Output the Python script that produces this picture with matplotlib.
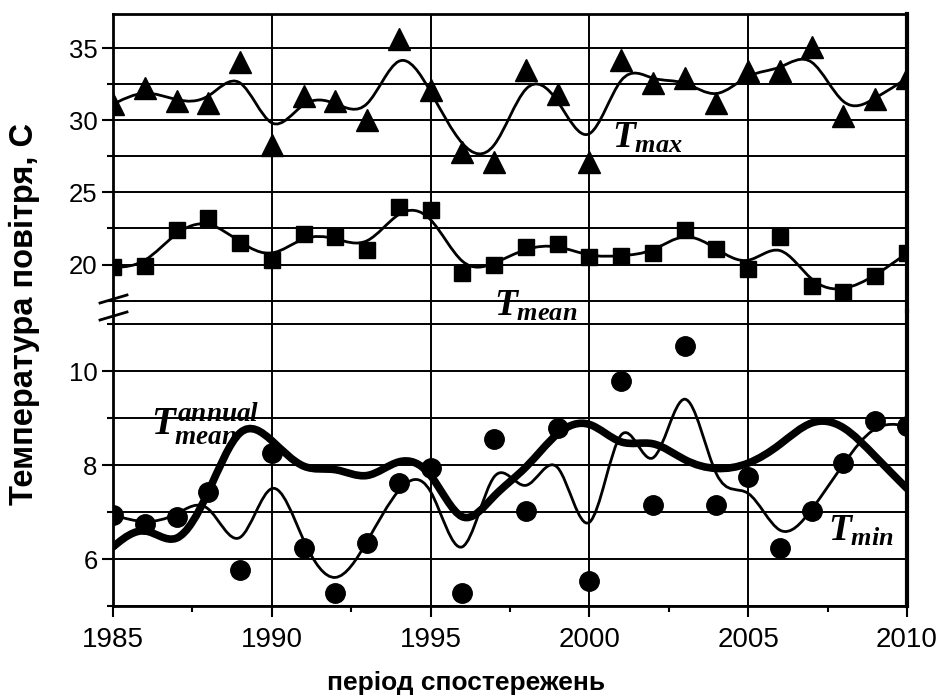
import matplotlib
matplotlib.use("Agg")
import matplotlib.pyplot as plt
import numpy as np
from matplotlib.lines import Line2D
from matplotlib.patches import PathPatch
from matplotlib.path import Path
from matplotlib.ticker import MultipleLocator

plt.rcParams['font.family'] = ['Liberation Sans', 'DejaVu Sans']
plt.rcParams['mathtext.fontset'] = 'custom'
plt.rcParams['mathtext.it'] = 'Liberation Serif:italic:bold'
plt.rcParams['mathtext.rm'] = 'Liberation Serif:bold'

# observation years
years = list(range(1985, 2011))

# maximum temperature (triangles)
t_max = [31.1, 32.2, 31.3, 31.2, 34.0, 28.3, 31.7, 31.3, 30.0, 35.6, 32.1, 27.8, 27.1,
         33.5, 31.8, 27.1, 34.2, 32.6, 32.9, 31.2, 33.4, 33.4, 35.1, 30.3, 31.5, 32.9]
# mean temperature (squares)
t_mean = [19.8, 19.9, 22.4, 23.2, 21.5, 20.3, 22.1, 21.9, 21.0, 24.0, 23.8, 19.4, 20.0,
          21.2, 21.4, 20.5, 20.6, 20.8, 22.4, 21.1, 19.7, 21.9, 18.5, 18.1, 19.2, 20.8]
# minimum temperature (circles)
t_min = [6.94, 6.74, 6.90, 7.43, 5.77, 8.25, 6.23, 5.27, 6.34, 7.62, 7.93, 5.27, 8.55,
         7.02, 8.78, 5.53, 9.79, 7.15, 10.53, 7.15, 7.75, 6.23, 7.02, 8.04, 8.94, 8.83]
# annual mean temperature (thick line only)
t_annual = [6.26, 6.80, 6.13, 7.35, 9.05, 8.56, 7.83, 7.99, 7.62, 8.20, 7.99, 6.50, 7.41,
            7.89, 8.77, 9.02, 8.34, 8.58, 8.06, 7.88, 7.99, 8.41, 9.02, 8.89, 8.18, 7.50]


def bspline_path(x, y):
    # uniform cubic B-spline with the points as control points (ends clamped)
    pts = np.column_stack([x, y]).astype(float)
    pts = np.vstack([pts[:1], pts[:1], pts, pts[-1:], pts[-1:]])
    verts = [pts[0]]
    codes = [Path.MOVETO]
    for i in range(len(pts) - 3):
        p0, p1, p2, p3 = pts[i:i + 4]
        verts += [(2 * p1 + p2) / 3, (p1 + 2 * p2) / 3, (p1 + 4 * p2 + p3) / 6]
        codes += [Path.CURVE4] * 3
    return Path(verts, codes)


def add_curve(ax, x, y, lw):
    ax.add_patch(PathPatch(bspline_path(x, y), fill=False, lw=lw, color='black',
                           capstyle='round', joinstyle='round', zorder=3))


fig = plt.figure(figsize=(9.39, 6.95), dpi=100)
L, R = 113 / 939, 907 / 939
mid = 1 - 311 / 695
ax_top = fig.add_axes([L, mid, R - L, (1 - 14 / 695) - mid])
ax_bot = fig.add_axes([L, 1 - 606 / 695, R - L, mid - (1 - 606 / 695)], sharex=ax_top)

for ax in (ax_top, ax_bot):
    ax.set_xlim(1985, 2010)
    ax.xaxis.set_major_locator(MultipleLocator(5))
    ax.xaxis.set_minor_locator(MultipleLocator(2.5))
    ax.grid(axis='x', which='major', color='black', lw=1.4)
    ax.grid(axis='y', which='both', color='black', lw=1.4)
    ax.set_axisbelow(True)
    ax.tick_params(which='both', direction='out', colors='black', width=1.5,
                   right=False, top=False)
    ax.tick_params(which='major', length=8)
    ax.tick_params(which='minor', length=4)
    ax.tick_params(axis='y', pad=3, labelsize=18.5)
    ax.tick_params(axis='x', pad=7, labelsize=20)
    ax.spines['left'].set_linewidth(2)
    ax.spines['right'].set_linewidth(3)
    ax.spines['top'].set_linewidth(2)
    ax.spines['bottom'].set_linewidth(2)
    ax.set_facecolor('none')

ax_top.set_ylim(16.78, 37.36)
ax_top.yaxis.set_major_locator(MultipleLocator(5))
ax_top.yaxis.set_minor_locator(MultipleLocator(2.5))
ax_top.spines['bottom'].set_visible(False)
ax_top.tick_params(axis='x', which='both', bottom=False, labelbottom=False)

ax_bot.set_ylim(5, 11.28)
ax_bot.yaxis.set_major_locator(MultipleLocator(2))
ax_bot.yaxis.set_minor_locator(MultipleLocator(1))
ax_bot.spines['top'].set_visible(False)

# top panel
ax_top.plot(years, t_max, ls='none', marker='^', ms=16, color='black', zorder=4)
add_curve(ax_top, years, t_max, 2.0)
ax_top.plot(years, t_mean, ls='none', marker='s', ms=12, color='black', zorder=4)
add_curve(ax_top, years, t_mean, 2.0)

# bottom panel
ax_bot.plot(years, t_min, ls='none', marker='o', ms=14, color='black', zorder=4)
add_curve(ax_bot, years, t_min, 2.0)
add_curve(ax_bot, years, t_annual, 5.5)

# curve labels
fig.text(2000.7, 28.1, r'$T_{max}$', transform=ax_top.transData, fontsize=27,
         ha='left', va='baseline')
fig.text(1997.0, 16.46, r'$T_{mean}$', transform=ax_top.transData, fontsize=27,
         ha='left', va='baseline')
fig.text(1986.2, 8.64, r'$T_{mean}^{annual}$', transform=ax_bot.transData, fontsize=28,
         ha='left', va='baseline')
fig.text(2007.5, 6.4, r'$T_{min}$', transform=ax_bot.transData, fontsize=27,
         ha='left', va='baseline')

# axis break marks
for y0 in (303, 320):
    fig.add_artist(Line2D([100 / 939, 127 / 939], [1 - y0 / 695, 1 - (y0 - 8) / 695],
                          transform=fig.transFigure, color='black', lw=2))

fig.text(466 / 939, 1 - 683 / 695, 'період спостережень', fontsize=19,
         fontweight='bold', ha='center', va='center')
fig.text(24 / 939, 1 - 314 / 695, 'Температура повітря, С', fontsize=23.5,
         fontweight='bold', rotation=90, ha='center', va='center')

fig.savefig('out.png', dpi=100)
